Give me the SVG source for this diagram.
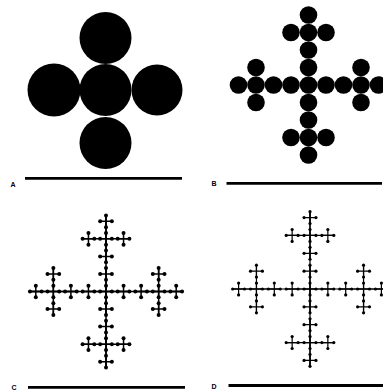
<svg xmlns="http://www.w3.org/2000/svg" xmlns:xlink="http://www.w3.org/1999/xlink" width="383" height="391" viewBox="0 0 383 391">
<style>
.ink{fill:#000}
.bar{stroke:#000;stroke-width:2.8;fill:none}
.lc{stroke:#000;stroke-width:1.5;fill:none}
.ld{stroke:#000;stroke-width:1.2;fill:none}
.lbl{font-family:"Liberation Sans",Arial,sans-serif;font-size:7px;font-weight:bold;fill:#000}
</style>
<defs>
<g id="b1" class="ink">
<circle cx="0" cy="0" r="8.8"/><circle cx="-17.5" cy="0" r="8.8"/><circle cx="17.5" cy="0" r="8.8"/><circle cx="0" cy="-17.5" r="8.8"/><circle cx="0" cy="17.5" r="8.8"/>
</g>
<g id="b2">
<use xlink:href="#b1"/><use xlink:href="#b1" x="-52.5"/><use xlink:href="#b1" x="52.5"/><use xlink:href="#b1" y="-52.5"/><use xlink:href="#b1" y="52.5"/>
</g>
<g id="c1">
<path class="lc" d="M-5.85 0H5.85M0 -5.85V5.85"/>
<g class="ink"><circle cx="-5.85" cy="0" r="2"/><circle cx="5.85" cy="0" r="2"/><circle cx="0" cy="-5.85" r="2"/><circle cx="0" cy="5.85" r="2"/></g>
</g>
<g id="c2">
<path class="lc" d="M-23.4 0H23.4M0 -23.4V23.4"/>
<use xlink:href="#c1"/><use xlink:href="#c1" x="-17.55"/><use xlink:href="#c1" x="17.55"/><use xlink:href="#c1" y="-17.55"/><use xlink:href="#c1" y="17.55"/>
</g>
<g id="c3">
<path class="lc" d="M-76.05 0H76.05M0 -76.05V76.05"/>
<use xlink:href="#c2"/><use xlink:href="#c2" x="-52.65"/><use xlink:href="#c2" x="52.65"/><use xlink:href="#c2" y="-52.65"/><use xlink:href="#c2" y="52.65"/>
</g>
<g id="d1">
<path class="ld" d="M-5.95 0H5.95M0 -5.95V5.95"/>
<g class="ink"><circle cx="-5.95" cy="0" r="1.6"/><circle cx="5.95" cy="0" r="1.6"/><circle cx="0" cy="-5.95" r="1.6"/><circle cx="0" cy="5.95" r="1.6"/></g>
</g>
<g id="d2">
<path class="ld" d="M-23.8 0H23.8M0 -23.8V23.8"/>
<use xlink:href="#d1"/><use xlink:href="#d1" x="-17.85"/><use xlink:href="#d1" x="17.85"/><use xlink:href="#d1" y="-17.85"/><use xlink:href="#d1" y="17.85"/>
</g>
<g id="d3">
<path class="ld" d="M-77.35 0H77.35M0 -77.35V77.35"/>
<use xlink:href="#d2"/><use xlink:href="#d2" x="-53.55"/><use xlink:href="#d2" x="53.55"/><use xlink:href="#d2" y="-53.55"/><use xlink:href="#d2" y="53.55"/>
</g>
</defs>
<rect width="383" height="391" fill="#fff"/>
<g id="panel-a">
<g class="ink">
<circle cx="105.5" cy="38" r="26"/><circle cx="54" cy="90" r="26.5"/><circle cx="105.5" cy="90" r="26"/><circle cx="157" cy="90" r="25.5"/><circle cx="105.5" cy="143" r="26"/>
</g>
<path class="bar" d="M25 178.3H182"/>
<text class="lbl" x="10.5" y="186.5">A</text>
</g>
<g id="panel-b">
<use xlink:href="#b2" transform="translate(308.5,85)"/>
<path class="bar" d="M226.5 183.3H382"/>
<text class="lbl" x="211.5" y="186">B</text>
</g>
<g id="panel-c">
<use xlink:href="#c3" transform="translate(106,291.5)"/>
<path class="bar" d="M28 387.3H185"/>
<text class="lbl" x="11.5" y="389.5">C</text>
</g>
<g id="panel-d">
<use xlink:href="#d3" transform="translate(310,289)"/>
<path class="bar" d="M228.5 385.5H383"/>
<text class="lbl" x="211.5" y="388.5">D</text>
</g>
</svg>
